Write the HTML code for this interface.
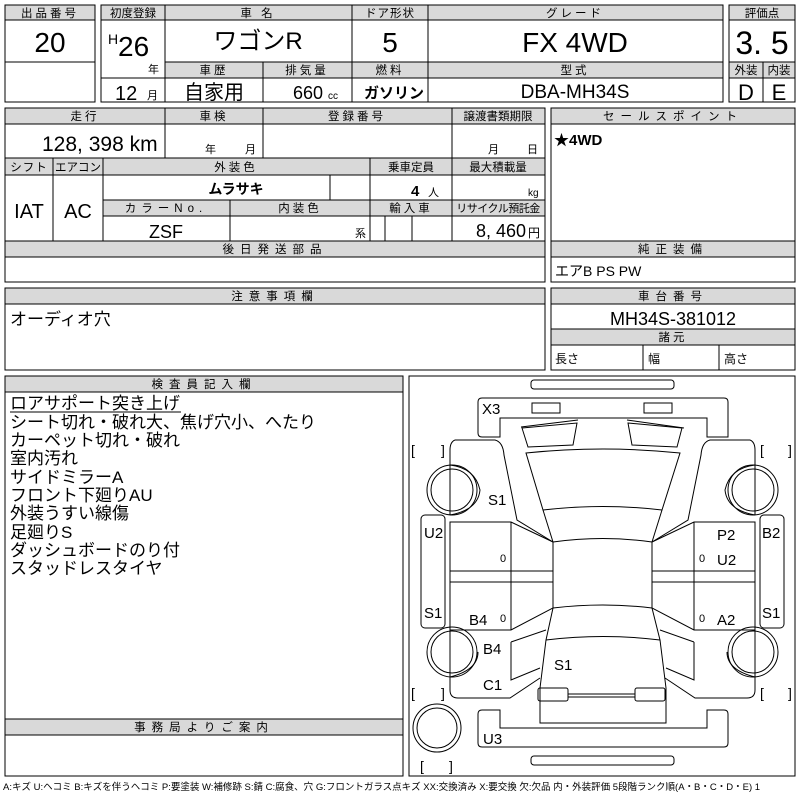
<!DOCTYPE html>
<html><head><meta charset="utf-8"><style>
html,body{margin:0;padding:0;background:#fff;width:800px;height:800px;overflow:hidden}
svg{display:block}
text{font-family:"Liberation Sans","Noto Sans CJK JP",sans-serif;fill:#000}
.h{font-size:11.5px;letter-spacing:3px}
.hg{fill:#d9d9d9}
</style></head><body>
<svg width="800" height="800" viewBox="0 0 800 800" xmlns="http://www.w3.org/2000/svg">
<g stroke="#000" stroke-width="1" fill="none">
<g class="hg" stroke="none">
<rect x="5" y="5" width="90" height="15"/>
<rect x="101" y="5" width="622" height="15"/>
<rect x="165" y="62" width="558" height="16"/>
<rect x="729" y="5" width="66" height="15"/>
<rect x="729" y="62" width="66" height="16"/>
<rect x="5" y="108" width="540" height="16"/>
<rect x="5" y="158" width="540" height="17"/>
<rect x="103" y="200" width="442" height="16"/>
<rect x="5" y="241" width="540" height="16"/>
<rect x="551" y="108" width="244" height="16"/>
<rect x="551" y="241" width="244" height="16"/>
<rect x="5" y="288" width="540" height="16"/>
<rect x="551" y="288" width="244" height="16"/>
<rect x="551" y="329" width="244" height="16"/>
<rect x="5" y="376" width="398" height="16"/>
<rect x="5" y="719" width="398" height="16"/>
</g>
<rect x="5" y="5" width="90" height="97"/>
<line x1="5" y1="20" x2="95" y2="20"/><line x1="5" y1="62" x2="95" y2="62"/>
<rect x="101" y="5" width="622" height="97"/>
<line x1="101" y1="20" x2="723" y2="20"/>
<line x1="165" y1="62" x2="723" y2="62"/><line x1="101" y1="78" x2="723" y2="78"/>
<line x1="165" y1="5" x2="165" y2="102"/><line x1="352" y1="5" x2="352" y2="102"/><line x1="428" y1="5" x2="428" y2="102"/>
<line x1="263" y1="62" x2="263" y2="102"/>
<rect x="729" y="5" width="66" height="97"/>
<line x1="729" y1="20" x2="795" y2="20"/><line x1="729" y1="62" x2="795" y2="62"/><line x1="729" y1="78" x2="795" y2="78"/>
<line x1="763" y1="62" x2="763" y2="102"/>
<rect x="5" y="108" width="540" height="174"/>
<line x1="5" y1="124" x2="545" y2="124"/><line x1="5" y1="158" x2="545" y2="158"/><line x1="5" y1="175" x2="545" y2="175"/>
<line x1="103" y1="200" x2="545" y2="200"/><line x1="103" y1="216" x2="545" y2="216"/>
<line x1="5" y1="241" x2="545" y2="241"/><line x1="5" y1="257" x2="545" y2="257"/>
<line x1="165" y1="108" x2="165" y2="158"/><line x1="263" y1="108" x2="263" y2="158"/><line x1="452" y1="108" x2="452" y2="241"/>
<line x1="53" y1="158" x2="53" y2="241"/><line x1="103" y1="158" x2="103" y2="241"/><line x1="370" y1="158" x2="370" y2="241"/>
<line x1="330" y1="175" x2="330" y2="200"/><line x1="230" y1="200" x2="230" y2="241"/><line x1="412" y1="216" x2="412" y2="241"/><line x1="385" y1="216" x2="385" y2="241"/>
<rect x="551" y="108" width="244" height="174"/>
<line x1="551" y1="124" x2="795" y2="124"/><line x1="551" y1="241" x2="795" y2="241"/><line x1="551" y1="257" x2="795" y2="257"/>
<rect x="5" y="288" width="540" height="82"/><line x1="5" y1="304" x2="545" y2="304"/>
<rect x="551" y="288" width="244" height="82"/>
<line x1="551" y1="304" x2="795" y2="304"/><line x1="551" y1="329" x2="795" y2="329"/><line x1="551" y1="345" x2="795" y2="345"/>
<line x1="643" y1="345" x2="643" y2="370"/><line x1="719" y1="345" x2="719" y2="370"/>
<rect x="5" y="376" width="398" height="400"/>
<line x1="5" y1="392" x2="403" y2="392"/><line x1="5" y1="719" x2="403" y2="719"/><line x1="5" y1="735" x2="403" y2="735"/>
<line x1="10" y1="412" x2="181" y2="412"/>
<rect x="409" y="376" width="386" height="400"/>
<g stroke-width="1">
<rect x="531" y="380" width="143" height="9" rx="3"/>
<rect x="531" y="756" width="143" height="9" rx="3"/>
<path d="M482,398 H724 Q728,398 728,402 V437 H707 V418 H500 V437 H482 Q478,437 478,433 V402 Q478,398 482,398Z"/>
<rect x="532" y="403" width="28" height="10"/><rect x="644" y="403" width="28" height="10"/>
<path d="M482,710 H500 V728 H707 V710 H724 Q728,710 728,714 V743 Q728,747 724,747 H482 Q478,747 478,743 V714 Q478,710 482,710Z"/>
<path d="M455,440 H495 Q503,442 504,455 L517,520 L553,542 M455,440 Q450,442 450,450 V465"/>
<path d="M750,440 H710 Q702,442 701,455 L688,520 L652,542 M750,440 Q755,442 755,450 V465"/>
<path d="M450,515 V465 Q475,468 480,490 Q478,510 450,515"/>
<path d="M755,515 V465 Q730,468 725,490 Q727,510 755,515"/>
<path d="M450,628 V690 Q450,698 458,698 H510 L540,678 M450,677 Q478,670 478,652"/>
<path d="M755,628 V690 Q755,698 747,698 H695 L665,678 M755,677 Q727,670 727,652"/>
<rect x="421" y="515" width="24" height="113" rx="4"/>
<rect x="760" y="515" width="24" height="113" rx="4"/>
<path d="M450,522 H511 L553,542 V608 L511,630 H450 Z M511,522 V630 M450,571 H553 M450,582 H553"/>
<path d="M755,522 H694 L652,542 V608 L694,630 H755 Z M694,522 V630 M755,571 H652 M755,582 H652"/>
<path d="M553,542 Q603,535 652,542 V608 Q603,602 553,608 Z"/>
<path d="M526,453 Q603,445 680,453 L662,510 Q603,503 543,510 Z"/>
<path d="M543,510 L553,542 M662,510 L652,542"/>
<path d="M522,428 L577,423 L573,445 L528,447 Z M628,423 L682,428 L677,447 L632,445 Z"/>
<path d="M521,427 L578,420 M627,420 L684,428"/>
<path d="M553,608 L546,640 L540,688 V723 H666 V688 L660,640 L652,608"/>
<path d="M546,640 Q603,633 660,640"/>
<path d="M511,642 L546,630 M511,642 V680 L540,668 M694,642 L660,630 M694,642 V680 L666,668"/>
<rect x="538" y="688" width="30" height="13" rx="2"/><rect x="635" y="688" width="30" height="13" rx="2"/>
<path d="M568,694 H635 M568,697 H635"/>
<circle cx="452" cy="490" r="25"/><circle cx="452" cy="490" r="21"/>
<circle cx="753" cy="490" r="25"/><circle cx="753" cy="490" r="21"/>
<circle cx="452" cy="652" r="25"/><circle cx="452" cy="652" r="21"/>
<circle cx="753" cy="652" r="25"/><circle cx="753" cy="652" r="21"/>
<circle cx="437" cy="728" r="24"/><circle cx="437" cy="728" r="20"/>
</g>
</g>
<g class="h" text-anchor="middle">
<text x="50" y="17">出品番号</text>
<text x="133" y="17" style="letter-spacing:0">初度登録</text>
<text x="258" y="17">車 名</text>
<text x="390" y="17" style="letter-spacing:1px">ドア形状</text>
<text x="575" y="17">グレード</text>
<text x="762" y="17" style="letter-spacing:0">評価点</text>
<text x="214" y="74">車歴</text>
<text x="307" y="74">排気量</text>
<text x="390" y="74">燃料</text>
<text x="575" y="74">型式</text>
<text x="746" y="74" style="letter-spacing:0">外装</text>
<text x="779" y="74" style="letter-spacing:0">内装</text>
<text x="85" y="120">走行</text>
<text x="214" y="120">車検</text>
<text x="357" y="120">登録番号</text>
<text x="498" y="120" style="letter-spacing:0">譲渡書類期限</text>
<text x="673" y="120" style="letter-spacing:6px">セールスポイント</text>
<text x="29" y="171" style="letter-spacing:1px">シフト</text>
<text x="78" y="171" style="letter-spacing:0">エアコン</text>
<text x="236" y="171">外装色</text>
<text x="411" y="171" style="letter-spacing:0">乗車定員</text>
<text x="498" y="171" style="letter-spacing:0">最大積載量</text>
<text x="166" y="212" style="letter-spacing:5px">カラーNo.</text>
<text x="300" y="212">内装色</text>
<text x="411" y="212">輸入車</text>
<text x="498" y="212" style="letter-spacing:-0.5px;font-size:11px">リサイクル預託金</text>
<text x="275" y="253" style="letter-spacing:6px">後日発送部品</text>
<text x="673" y="253" style="letter-spacing:6px">純正装備</text>
<text x="275" y="300" style="letter-spacing:6px">注意事項欄</text>
<text x="673" y="300" style="letter-spacing:6px">車台番号</text>
<text x="673" y="341">諸元</text>
<text x="204" y="388" style="letter-spacing:6px">検査員記入欄</text>
<text x="204" y="731" style="letter-spacing:6px">事務局よりご案内</text>
</g>
<g text-anchor="middle">
<text x="50" y="52" font-size="28">20</text>
<text x="258" y="49" font-size="24">ワゴンR</text>
<text x="390" y="52" font-size="28">5</text>
<text x="575" y="52" font-size="28">FX 4WD</text>
<text x="762" y="54" font-size="32">3. 5</text>
<text x="214" y="99" font-size="20">自家用</text>
<text x="575" y="98" font-size="19">DBA-MH34S</text>
<text x="746" y="100" font-size="22">D</text>
<text x="779" y="100" font-size="22">E</text>
<text x="29" y="218" font-size="20">IAT</text>
<text x="78" y="218" font-size="20">AC</text>
<text x="166" y="238" font-size="18">ZSF</text>
<text x="236" y="194" font-size="14" font-weight="bold">ムラサキ</text>
<text x="673" y="325" font-size="18">MH34S-381012</text>
</g>
<text x="108" y="44" font-size="14">H</text>
<text x="118" y="56" font-size="28">26</text>
<text x="148" y="73" font-size="11">年</text>
<text x="115" y="100" font-size="20">12</text>
<text x="147" y="99" font-size="11">月</text>
<text x="293" y="99" font-size="18">660</text>
<text x="328" y="99" font-size="10">cc</text>
<text x="364" y="98" font-size="15" font-weight="bold">ガソリン</text>
<text x="42" y="151" font-size="21">128, 398 km</text>
<text x="205" y="153" font-size="11">年</text>
<text x="245" y="153" font-size="11">月</text>
<text x="488" y="153" font-size="11">月</text>
<text x="527" y="153" font-size="11">日</text>
<text x="411" y="196" font-size="15" font-weight="bold">4</text>
<text x="428" y="196" font-size="11">人</text>
<text x="528" y="196" font-size="10">kg</text>
<text x="355" y="237" font-size="11">系</text>
<text x="476" y="237" font-size="18">8, 460</text>
<text x="528" y="237" font-size="12">円</text>
<text x="554" y="145" font-size="15" font-weight="bold">★4WD</text>
<text x="555" y="276" font-size="14">エアB PS PW</text>
<text x="10" y="325" font-size="17">オーディオ穴</text>
<text x="555" y="363" font-size="12">長さ</text>
<text x="648" y="363" font-size="12">幅</text>
<text x="724" y="363" font-size="12">高さ</text>
<g font-size="17">
<text x="10" y="409">ロアサポート突き上げ</text>
<text x="10" y="428">シート切れ・破れ大、焦げ穴小、へたり</text>
<text x="10" y="446">カーペット切れ・破れ</text>
<text x="10" y="464">室内汚れ</text>
<text x="10" y="483">サイドミラーA</text>
<text x="10" y="501">フロント下廻りAU</text>
<text x="10" y="519">外装うすい線傷</text>
<text x="10" y="538">足廻りS</text>
<text x="10" y="556">ダッシュボードのり付</text>
<text x="10" y="574">スタッドレスタイヤ</text>
</g>
<g font-size="15">
<text x="482" y="414">X3</text>
<text x="488" y="505">S1</text>
<text x="424" y="538">U2</text>
<text x="424" y="618">S1</text>
<text x="469" y="625">B4</text>
<text x="483" y="654">B4</text>
<text x="483" y="690">C1</text>
<text x="554" y="670">S1</text>
<text x="483" y="744">U3</text>
<text x="717" y="540">P2</text>
<text x="717" y="565">U2</text>
<text x="762" y="538">B2</text>
<text x="762" y="618">S1</text>
<text x="717" y="625">A2</text>
</g>
<g font-size="11">
<text x="500" y="562">0</text><text x="500" y="622">0</text>
<text x="699" y="562">0</text><text x="699" y="622">0</text>
</g>
<g font-size="14">
<text x="411" y="455">[</text><text x="441" y="455">]</text>
<text x="760" y="455">[</text><text x="788" y="455">]</text>
<text x="411" y="698">[</text><text x="441" y="698">]</text>
<text x="760" y="698">[</text><text x="788" y="698">]</text>
<text x="420" y="771">[</text><text x="449" y="771">]</text>
</g>
<text x="3" y="790" font-size="9.5">A:キズ U:ヘコミ B:キズを伴うヘコミ P:要塗装 W:補修跡 S:錆 C:腐食、穴 G:フロントガラス点キズ XX:交換済み X:要交換 欠:欠品 内・外装評価 5段階ランク順(A・B・C・D・E) 1</text>
</svg>
</body></html>
